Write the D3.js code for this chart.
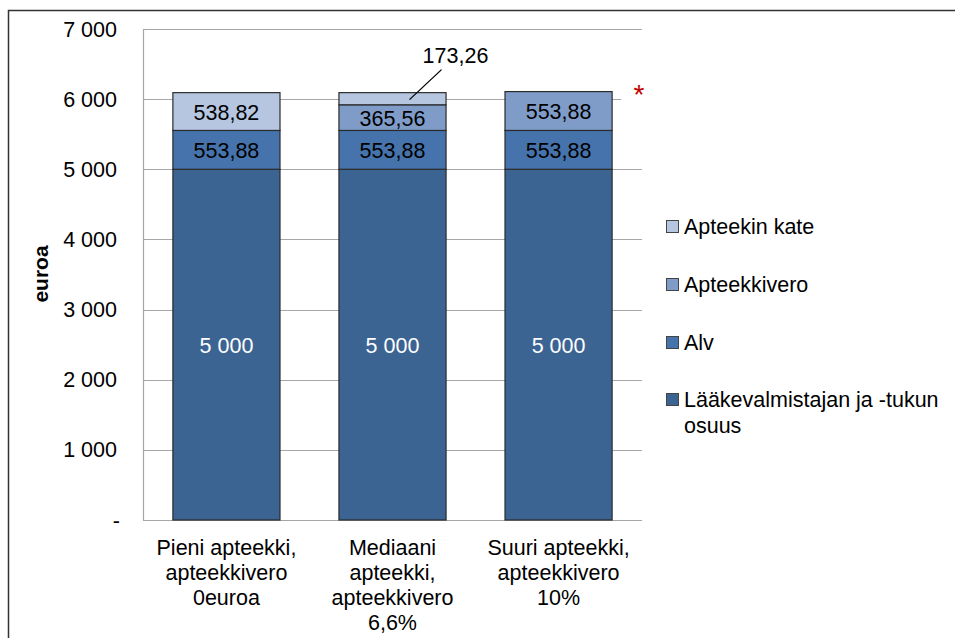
<!DOCTYPE html>
<html>
<head>
<meta charset="utf-8">
<script src="https://cdn.jsdelivr.net/npm/d3@7"></script>
<style>
  body { margin: 0; background: #fff; }
  svg text { font-family: "Liberation Sans", Arial, sans-serif; }
</style>
</head>
<body>
<svg id="chart" width="955" height="638"></svg>
<script>
var categories = [
    ["Pieni apteekki,", "apteekkivero", "0euroa"],
    ["Mediaani", "apteekki,", "apteekkivero", "6,6%"],
    ["Suuri apteekki,", "apteekkivero", "10%"]
];
var legendNames = [["Apteekin kate"], ["Apteekkivero"], ["Alv"], ["Lääkevalmistajan ja -tukun", "osuus"]];
var valmistaja = [5000, 5000, 5000];
var alv = [553.88, 553.88, 553.88];
var vero = [0, 365.56, 553.88];
var kate = [538.82, 173.26, 0];
var yTicks = [0, 1000, 2000, 3000, 4000, 5000, 6000, 7000];
var colors = ["#3c6493", "#4673ab", "#7f9cc9", "#b6c6e1"];

var svg = d3.select("svg#chart");
var margin = { left: 143, top: 29, right: 642, bottom: 520 };
var fs = "21.5px";

// outer frame
svg.append("rect")
    .attr("x", 8.5).attr("y", 10.5)
    .attr("width", 1000).attr("height", 700)
    .attr("fill", "none").attr("stroke", "#333").attr("stroke-width", 1.5);

var x = d3.scaleBand()
    .domain(d3.range(categories.length))
    .range([margin.left, margin.right])
    .paddingInner(0.355).paddingOuter(0.18);

var y = d3.scaleLinear().domain([0, 7000]).range([margin.bottom, margin.top]);

var fmt = function(v) {
    if (v === 0) return "-";
    return d3.format(",")(v).replace(/,/g, " ");
};
var dec = function(v) { return d3.format(".2f")(v).replace(".", ","); };

// gridlines
svg.append("g").selectAll("line")
    .data(yTicks)
    .enter().append("line")
    .attr("x1", margin.left)
    .attr("x2", function(d) { return d === 6000 ? 621 : margin.right; })
    .attr("y1", function(d) { return Math.round(y(d)) + 0.5; })
    .attr("y2", function(d) { return Math.round(y(d)) + 0.5; })
    .attr("stroke", "#a6a6a6").attr("stroke-width", 1.2);

svg.append("line")
    .attr("x1", margin.left + 0.5).attr("x2", margin.left + 0.5)
    .attr("y1", margin.top).attr("y2", margin.bottom)
    .attr("stroke", "#a6a6a6").attr("stroke-width", 1.2);

// y tick labels
svg.append("g").selectAll("text")
    .data(yTicks)
    .enter().append("text")
    .attr("x", function(d) { return d === 0 ? 120 : 117; })
    .attr("y", function(d) { return y(d) + 7.5; })
    .attr("text-anchor", "end")
    .attr("font-size", fs)
    .attr("fill", "#000")
    .text(fmt);

svg.append("text")
    .attr("transform", "translate(48,274) rotate(-90)")
    .attr("text-anchor", "middle")
    .attr("font-size", "21px")
    .attr("font-weight", "bold")
    .text("euroa");

// stacked data
var rows = categories.map(function(c, i) {
    return { i: i, s0: valmistaja[i], s1: alv[i], s2: vero[i], s3: kate[i] };
});
var stack = d3.stack().keys(["s0", "s1", "s2", "s3"]);
var layers = stack(rows);

var groups = svg.append("g").selectAll("g")
    .data(layers)
    .enter().append("g")
    .attr("fill", function(d, i) { return colors[i]; });

groups.selectAll("rect")
    .data(function(d) { return d.filter(function(p) { return p[1] - p[0] > 0; }); })
    .enter().append("rect")
    .attr("x", function(d) { return x(d.data.i); })
    .attr("y", function(d) { return y(d[1]); })
    .attr("width", x.bandwidth())
    .attr("height", function(d) { return y(d[0]) - y(d[1]); })
    .attr("stroke", "#2b2b2b").attr("stroke-width", 1.2);

// value labels
layers.forEach(function(layer, li) {
    layer.forEach(function(p) {
        var v = p[1] - p[0];
        if (v <= 0) return;
        var cx = x(p.data.i) + x.bandwidth() / 2;
        if (v < 250) {
            // small segment: label above with leader line
            svg.append("line")
                .attr("x1", cx + 17).attr("y1", y(p[1]) + 7)
                .attr("x2", cx + 49).attr("y2", y(p[1]) - 23)
                .attr("stroke", "#000").attr("stroke-width", 1.3);
            svg.append("text")
                .attr("x", cx + 63).attr("y", y(p[1]) - 30)
                .attr("text-anchor", "middle")
                .attr("font-size", fs)
                .text(dec(v));
            return;
        }
        svg.append("text")
            .attr("x", cx)
            .attr("y", (y(p[0]) + y(p[1])) / 2 + 8)
            .attr("text-anchor", "middle")
            .attr("font-size", fs)
            .attr("fill", li === 0 ? "#fff" : "#000")
            .text(li === 0 ? fmt(v) : dec(v));
    });
});

// asterisk
svg.append("rect")
    .attr("x", 624).attr("y", 82).attr("width", 22).attr("height", 22)
    .attr("fill", "#fff");
svg.append("text")
    .attr("x", 639).attr("y", 104)
    .attr("text-anchor", "middle")
    .attr("font-size", "28px")
    .attr("fill", "#c00000")
    .text("*");

// category labels
var cat = svg.append("g").selectAll("text")
    .data(categories)
    .enter().append("text")
    .attr("text-anchor", "middle")
    .attr("font-size", fs)
    .attr("y", 555);
cat.selectAll("tspan")
    .data(function(d, i) { return d.map(function(t) { return { t: t, i: i }; }); })
    .enter().append("tspan")
    .attr("x", function(d) { return x(d.i) + x.bandwidth() / 2; })
    .attr("dy", function(d, j) { return j === 0 ? 0 : 25; })
    .text(function(d) { return d.t; });

// legend
var legY = [234, 292, 350, 407];
var leg = svg.append("g").selectAll("g")
    .data(legendNames)
    .enter().append("g")
    .attr("transform", function(d, i) { return "translate(666," + legY[i] + ")"; });
leg.append("rect")
    .attr("x", 0.5).attr("y", -13.5)
    .attr("width", 12).attr("height", 12)
    .attr("fill", function(d, i) { return colors[3 - i]; })
    .attr("stroke", "#444").attr("stroke-width", 1);
leg.append("text")
    .attr("font-size", fs)
    .attr("y", 0)
    .selectAll("tspan")
    .data(function(d) { return d; })
    .enter().append("tspan")
    .attr("x", 18)
    .attr("dy", function(d, j) { return j === 0 ? 0 : 26; })
    .text(function(d) { return d; });
</script>
</body>
</html>
